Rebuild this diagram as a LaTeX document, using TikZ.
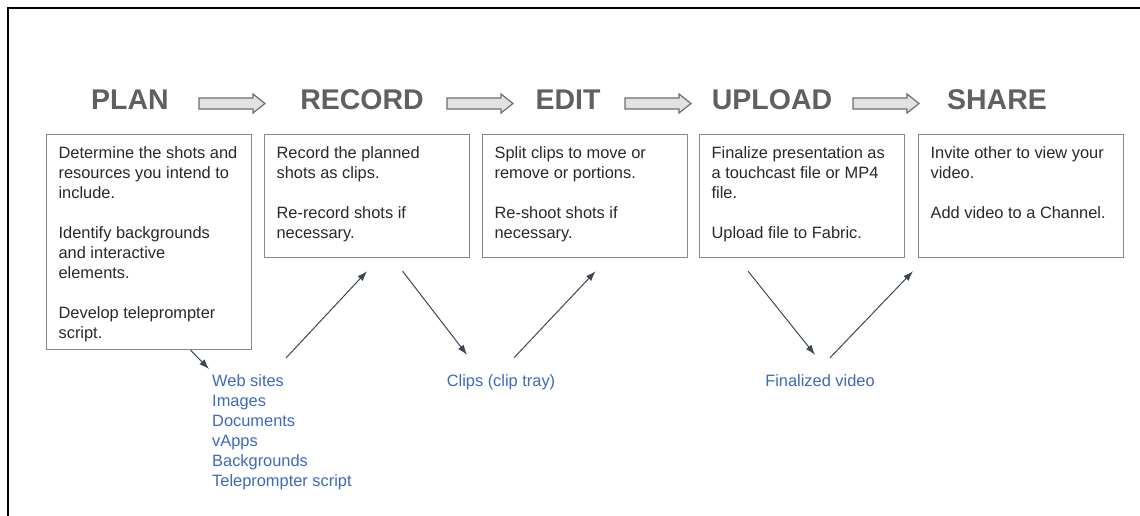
\documentclass[tikz,border=0pt]{standalone}
\usepackage{fontspec}
\setmainfont{Liberation Sans}
\usetikzlibrary{arrows.meta}

\definecolor{headgray}{RGB}{96,96,96}
\definecolor{boxgray}{RGB}{136,136,136}
\definecolor{bodytext}{RGB}{40,40,40}
\definecolor{linkblue}{RGB}{60,104,192}
\definecolor{flowgray}{RGB}{60,70,84}
\definecolor{arrowfill}{RGB}{224,226,228}
\definecolor{arrowline}{RGB}{110,110,110}

\newcommand{\steptext}[2]{\parbox[t][#1][t]{181pt}{\raggedright\strut #2}}

\tikzset{
  heading/.style={font=\fontsize{28.5}{30}\selectfont\bfseries, text=headgray, inner sep=0pt},
  stepbox/.style={draw=boxgray, line width=1.2pt, anchor=north west, inner xsep=12pt, inner ysep=10pt, text=bodytext, font=\fontsize{16.4}{20}\selectfont},
  resource/.style={text=linkblue, inner sep=0pt, font=\fontsize{16.4}{20}\selectfont},
  flow/.style={draw=flowgray, line width=1pt, -{Latex[length=10pt,width=7pt]}},
  bigarrow/.style={draw=arrowline, fill=arrowfill, line width=1.2pt, line join=miter}
}

\begin{document}
\begin{tikzpicture}[x=1pt, y=-1pt]
\useasboundingbox (0,0) rectangle (1140,516);
\draw[line width=2.5pt] (1140,8) -- (8,8) -- (8,516);

% Stage titles
\node[heading] (plan)   at (130,99.5) {PLAN};
\node[heading] (record) at (362,99.5) {RECORD};
\node[heading] (edit)   at (568,99.5) {EDIT};
\node[heading] (upload) at (772,99.5) {UPLOAD};
\node[heading] (share)  at (997,99.5) {SHARE};

% Fat arrows between the titles
\foreach \x in {199,447,625,853}
  \draw[bigarrow] (\x,98) -- ++(54,0) -- ++(0,-4) -- ++(12,9.5) -- ++(-12,9.5) -- ++(0,-4) -- ++(-54,0) -- cycle;

% What happens in each stage
\node[stepbox] (planbox) at (46,134) {\steptext{195pt}{Determine the shots and\\resources you intend to\\include.\\[20pt]Identify backgrounds\\and interactive\\elements.\\[20pt]Develop teleprompter\\script.}};
\node[stepbox] (recordbox) at (264,134) {\steptext{103pt}{Record the planned\\shots as clips.\\[20pt]Re-record shots if\\necessary.}};
\node[stepbox] (editbox) at (482,134) {\steptext{103pt}{Split clips to move or\\remove or portions.\\[20pt]Re-shoot shots if\\necessary.}};
\node[stepbox] (uploadbox) at (699,134) {\steptext{103pt}{Finalize presentation as\\a touchcast file or MP4\\file.\\[20pt]Upload file to Fabric.}};
\node[stepbox] (sharebox) at (918,134) {\steptext{103pt}{Invite other to view your\\video.\\[20pt]Add video to a Channel.}};

% Things made along the way
\node[resource, anchor=north west, align=left] (res) at (212,372) {\strut Web sites\\Images\\Documents\\vApps\\Backgrounds\\Teleprompter script};
\node[resource, anchor=base] (clips) at (501,386) {\strut Clips (clip tray)};
\node[resource, anchor=base] (final) at (820,386) {\strut Finalized video};

\draw[flow] ([xshift=41.5pt]planbox.south) -- ([xshift=-3pt,yshift=3pt]res.north west);
\draw[flow] ([xshift=74pt,yshift=14pt]res.north west) -- ([yshift=-13pt]recordbox.south);
\draw[flow] ([xshift=35.5pt,yshift=-13pt]recordbox.south) -- ([xshift=-34pt,yshift=17pt]clips.north);
\draw[flow] ([xshift=13pt,yshift=14pt]clips.north) -- ([xshift=10.5pt,yshift=-13pt]editbox.south);
\draw[flow] ([xshift=-54pt,yshift=-13pt]uploadbox.south) -- ([xshift=-5pt,yshift=17pt]final.north);
\draw[flow] ([xshift=10pt,yshift=14pt]final.north) -- ([xshift=-5pt,yshift=-13pt]sharebox.south west);
\end{tikzpicture}
\end{document}
